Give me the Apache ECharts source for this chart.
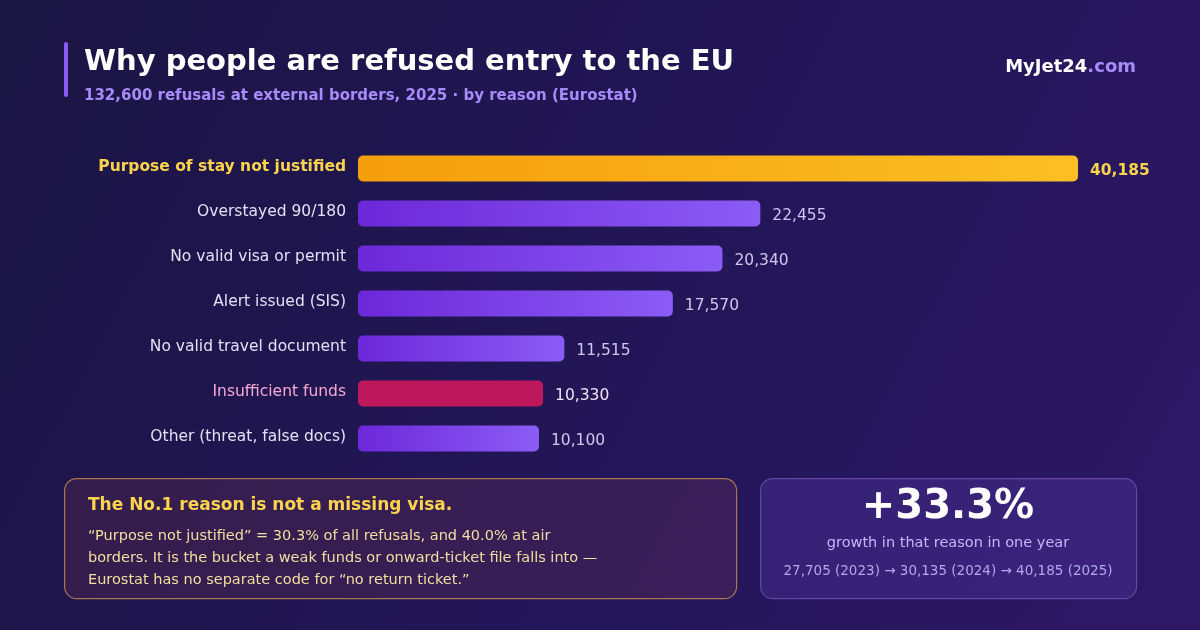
<!DOCTYPE html>
<html>
<head>
<meta charset="utf-8">
<script src="https://cdn.jsdelivr.net/npm/echarts@6/dist/echarts.min.js"></script>
<style>
  html, body { margin: 0; padding: 0; background: #1d1547; }
  #chart { width: 1200px; height: 630px; }
</style>
</head>
<body>
<div id="chart"></div>
<script>
// reasons, top to bottom
const reasons = [
  'Purpose of stay not justified',
  'Overstayed 90/180',
  'No valid visa or permit',
  'Alert issued (SIS)',
  'No valid travel document',
  'Insufficient funds',
  'Other (threat, false docs)'
];
const refusals = [40185, 22455, 20340, 17570, 11515, 10330, 10100];
// which style each row uses: top = gold, funds = pink, rest purple
const rowKind = ['top', 'base', 'base', 'base', 'base', 'funds', 'base'];

const trendYears = [2023, 2024, 2025];
const trendValues = [27705, 30135, 40185];

const font = 'DejaVu Sans, sans-serif';
const fmt = (n) => n.toLocaleString('en-US');

const barColor = {
  top: new echarts.graphic.LinearGradient(0, 0, 1, 0, [
    { offset: 0, color: '#f59e0b' }, { offset: 1, color: '#fbbf24' }
  ]),
  base: new echarts.graphic.LinearGradient(0, 0, 1, 0, [
    { offset: 0, color: '#6d28d9' }, { offset: 1, color: '#8b5cf6' }
  ]),
  funds: '#be185d'
};
const valueLabel = {
  top: { color: '#fcd34d', fontWeight: 'bold' },
  base: { color: '#cfc6ee', fontWeight: 'normal' },
  funds: { color: '#f3e3f5', fontWeight: 'normal' }
};

const chart = echarts.init(document.getElementById('chart'));

const growth = (trendValues[2] / trendValues[1] - 1) * 100;
const trendText = trendValues.map((v, i) => fmt(v) + ' (' + trendYears[i] + ')').join(' \u2192 ');

const option = {
  backgroundColor: new echarts.graphic.LinearGradient(0, 0, 1, 1, [
    { offset: 0, color: '#1b1543' },
    { offset: 0.6, color: '#23165a' },
    { offset: 1, color: '#2e1866' }
  ]),
  textStyle: { fontFamily: font },
  grid: { left: 358, right: 122, top: 146, height: 315, containLabel: false },
  xAxis: {
    type: 'value', min: 0, max: 40185,
    show: false
  },
  yAxis: {
    type: 'category',
    inverse: true,
    data: reasons,
    axisLine: { show: false },
    axisTick: { show: false },
    splitLine: { show: false },
    axisLabel: {
      margin: 12,
      fontSize: 15.5,
      fontFamily: font,
      formatter: (v, i) => '{' + rowKind[i] + '|' + v + '}',
      rich: {
        top: { color: '#fcd34d', fontWeight: 'bold', fontSize: 15.5, fontFamily: font, padding: [0, 0, 3, 0] },
        base: { color: '#e4e0f5', fontSize: 15.5, fontFamily: font, padding: [0, 0, 3, 0] },
        funds: { color: '#f9a8d4', fontSize: 15.5, fontFamily: font, padding: [0, 0, 3, 0] }
      }
    }
  },
  series: [{
    type: 'bar',
    barWidth: 26,
    data: refusals.map((v, i) => ({
      value: v,
      itemStyle: { color: barColor[rowKind[i]], borderRadius: 5 },
      label: valueLabel[rowKind[i]]
    })),
    label: {
      show: true,
      position: 'right',
      distance: 12,
      fontSize: 15.5,
      fontFamily: font,
      offset: [0, 2],
      formatter: (p) => fmt(p.value)
    }
  }],
  graphic: [
    { type: 'rect', left: 64, top: 42, shape: { width: 4, height: 55, r: 2 }, style: { fill: '#8b5cf6' } },
    { type: 'text', left: 84, top: 48, style: { text: 'Why people are refused entry to the EU', fill: '#ffffff', font: 'bold 29px DejaVu Sans' } },
    { type: 'text', left: 84, top: 89, style: { text: '132,600 refusals at external borders, 2025 \u00b7 by reason (Eurostat)', fill: '#a78bfa', font: 'bold 15px DejaVu Sans' } },
    { type: 'text', right: 64, top: 58, style: {
      text: '{a|MyJet24}{b|.com}',
      rich: {
        a: { fill: '#ffffff', fontWeight: 'bold', fontSize: 18, fontFamily: font },
        b: { fill: '#a78bfa', fontWeight: 'bold', fontSize: 18, fontFamily: font }
      }
    } },
    // callout box
    { type: 'rect', left: 64, top: 478, shape: { width: 672, height: 120, r: 12 },
      style: { fill: 'rgba(125,60,80,0.24)', stroke: 'rgba(214,150,80,0.75)', lineWidth: 1.2 } },
    { type: 'text', left: 88, top: 497, style: { text: 'The No.1 reason is not a missing visa.', fill: '#fcd34d', font: 'bold 17px DejaVu Sans' } },
    { type: 'text', left: 88, top: 525, style: {
      text: '\u201cPurpose not justified\u201d = 30.3% of all refusals, and 40.0% at air\nborders. It is the bucket a weak funds or onward-ticket file falls into \u2014\nEurostat has no separate code for \u201cno return ticket.\u201d',
      fill: '#f3dfa0', font: '14.5px DejaVu Sans', lineHeight: 22
    } },
    // growth box
    { type: 'rect', left: 760, top: 478, shape: { width: 376, height: 120, r: 12 },
      style: { fill: 'rgba(139,92,246,0.16)', stroke: 'rgba(167,139,250,0.4)', lineWidth: 1.2 } },
    { type: 'text', x: 948, y: 508, style: { text: '+' + growth.toFixed(1) + '%', fill: '#ffffff', font: 'bold 40px DejaVu Sans', align: 'center', verticalAlign: 'middle' } },
    { type: 'text', x: 948, y: 543, style: { text: 'growth in that reason in one year', fill: '#c4b5fd', font: '14.5px DejaVu Sans', align: 'center', verticalAlign: 'middle' } },
    { type: 'text', x: 948, y: 571, style: { text: trendText, fill: '#b4a6f0', font: '13.5px DejaVu Sans', align: 'center', verticalAlign: 'middle' } }
  ]
};

chart.setOption(option);
window.addEventListener('resize', () => chart.resize());
</script>
</body>
</html>
